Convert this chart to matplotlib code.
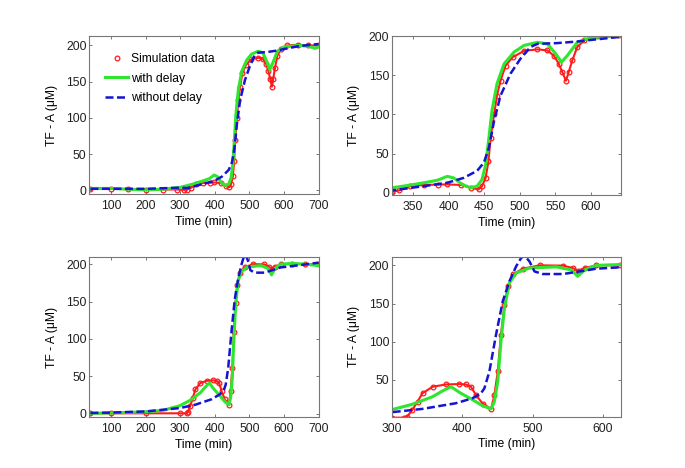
import matplotlib
matplotlib.use("Agg")
import matplotlib.pyplot as plt
from matplotlib.lines import Line2D

plt.rcParams['font.family'] = ['Liberation Sans', 'DejaVu Sans']
plt.rcParams['font.size'] = 8.7

# ── top row data (same run shown full / zoomed) ────────────
top_sim_t = [40, 100, 150, 200, 250, 290, 310, 320, 330, 346, 365, 385, 398, 417,
             431, 442, 447, 452, 456, 459, 464, 468, 473, 480, 490, 506, 525, 539,
             548, 555, 560, 565, 569, 574, 581, 591, 609, 640, 670, 700]
top_sim_y = [2, 2, 1.5, 1, 1, 1, 0.5, 1, 3, 8.5, 10, 10.5, 10.7, 10,
             6.4, 4.3, 8.5, 19, 40, 70, 100, 124, 143, 162, 173, 181, 183, 181.6,
             175, 164.5, 154, 143, 154, 169, 186, 194.5, 200, 201, 200, 200]

top_delay_t = [40, 100, 150, 200, 250, 300, 320, 340, 365, 384, 398, 407, 419, 431,
               440, 447, 452, 456.7, 461, 468, 478, 492, 506, 525, 539, 551, 558.7,
               567, 581, 600, 642, 670, 690, 700]
top_delay_y = [2.5, 2.5, 1.5, 0.5, 1.5, 4, 6.4, 9, 12.8, 16, 21, 19, 10.7, 6.4,
               8.5, 17, 36, 70.5, 105, 139, 164.5, 179.5, 188, 192, 190, 177, 166.7,
               175, 192, 198, 200, 199, 196, 198]

top_nodelay_t = [40, 100, 200, 300, 320, 365, 398, 421, 440, 449.6, 456.7, 464, 473,
                 487, 501, 515, 525, 553, 581, 600, 642, 700]
top_nodelay_y = [2, 2, 2, 3.5, 3, 8.5, 12.8, 19, 28, 38.5, 57.7, 92, 124,
                 152, 171, 186, 190, 191, 193, 195, 199, 202]

# ── bottom row data ────────────────────────────────────────
bot_sim_t = [40, 100, 200, 300, 318, 322, 329, 336.5, 343.6, 358, 377, 395, 405,
             412.5, 419.6, 429, 441, 445.7, 450.5, 455, 460, 464.7, 471.8, 486, 510,
             543, 557, 564, 574, 590.5, 624, 660, 700]
bot_sim_y = [0.5, 0.5, 0.5, 0.5, 0.5, 2, 10.6, 21.5, 32.5, 41, 44, 44.5, 44,
             41, 30, 19, 12, 30, 61, 109, 148, 172.5, 188, 195.6, 200,
             199.6, 196.5, 193, 196.5, 200, 200, 200, 200]

bot_delay_t = [40, 100, 200, 250, 298.5, 329, 358, 372, 384, 398, 414.8, 429, 441,
               445.7, 450.5, 455, 460, 467, 476.6, 495.6, 533.6, 555, 564, 574,
               590.5, 624, 660, 700]
bot_delay_y = [0.5, 1, 2.5, 4.5, 10.6, 18, 28, 35.5, 41, 32.5, 24, 16, 12,
               21.5, 48, 100, 144, 177, 190, 196.5, 198, 194, 185.6, 194,
               200, 201, 200, 198]

bot_nodelay_t = [40, 100, 200, 298.5, 343.6, 391, 414.8, 426.7, 431.5, 438.6, 448,
                 457.6, 467, 476.6, 483.7, 488.4, 495.6, 502.7, 514.6, 543, 567,
                 590.5, 624, 660, 700]
bot_nodelay_y = [1, 1.5, 3, 7.5, 12, 19.4, 26, 32.5, 39, 61, 109,
                 153, 179, 198.7, 209.6, 213, 205, 192, 188.6, 188.6, 192,
                 195.6, 197.4, 199.5, 202]

RED = '#ff1a1a'
GREEN = '#2ee62e'
BLUE = '#1414d2'
SPINE = '#777777'

fig = plt.figure(figsize=(6.85, 4.68), dpi=100)

panels = [
    # rect, data, xlim, ylim, xticks, yticks
    ([0.130, 0.585, 0.335, 0.338], 'top', (36, 700), (-5.5, 213),
     range(100, 701, 100), range(0, 201, 50)),
    ([0.572, 0.583, 0.334, 0.340], 'top', (320, 642), (-3, 200),
     range(350, 601, 50), range(0, 201, 50)),
    ([0.130, 0.109, 0.335, 0.341], 'bot', (36, 700), (-4.4, 209),
     range(100, 701, 100), range(0, 201, 50)),
    ([0.572, 0.110, 0.334, 0.341], 'bot', (300, 625), (2, 211),
     range(300, 601, 100), range(50, 201, 50)),
]

for i, (rect, which, xlim, ylim, xt, yt) in enumerate(panels):
    ax = fig.add_axes(rect)
    if which == 'top':
        st, sy = top_sim_t, top_sim_y
        dt, dy = top_delay_t, top_delay_y
        nt, ny = top_nodelay_t, top_nodelay_y
    else:
        st, sy = bot_sim_t, bot_sim_y
        dt, dy = bot_delay_t, bot_delay_y
        nt, ny = bot_nodelay_t, bot_nodelay_y

    ax.plot(st, sy, color=RED, lw=1.5, marker='o', ms=3.4, mfc='none', mew=0.9)
    ax.plot(dt, dy, color=GREEN, lw=2.2)
    ax.plot(nt, ny, color=BLUE, lw=1.8, ls='--', dashes=(3.2, 1.4))

    ax.set_xlim(*xlim)
    ax.set_ylim(*ylim)
    ax.set_xticks(list(xt))
    ax.set_yticks(list(yt))
    ax.tick_params(direction='in', length=2.5, width=0.7, color=SPINE,
                   top=True, right=True, labelcolor='#202020')
    ax.tick_params(axis='x', pad=4.5)
    ax.tick_params(axis='y', pad=1.8)
    for s in ax.spines.values():
        s.set_color(SPINE)
        s.set_linewidth(0.8)
    ax.set_xlabel('Time (min)', labelpad=2.5)
    ax.set_ylabel('TF - A (μM)', labelpad=6)

    if i == 0:
        handles = [
            Line2D([], [], color=RED, ls='none', marker='o', ms=3.4, mfc='none', mew=0.9),
            Line2D([], [], color=GREEN, lw=2.2),
            Line2D([], [], color=BLUE, lw=1.8, ls='--', dashes=(3.2, 1.4)),
        ]
        ax.legend(handles, ['Simulation data', 'with delay', 'without delay'],
                  loc='upper left', bbox_to_anchor=(0.07, 0.89), frameon=False,
                  borderpad=0, borderaxespad=0, handlelength=1.9,
                  handletextpad=0.25, labelspacing=0.6, fontsize=8.7)

fig.savefig('out.png', dpi=100)
